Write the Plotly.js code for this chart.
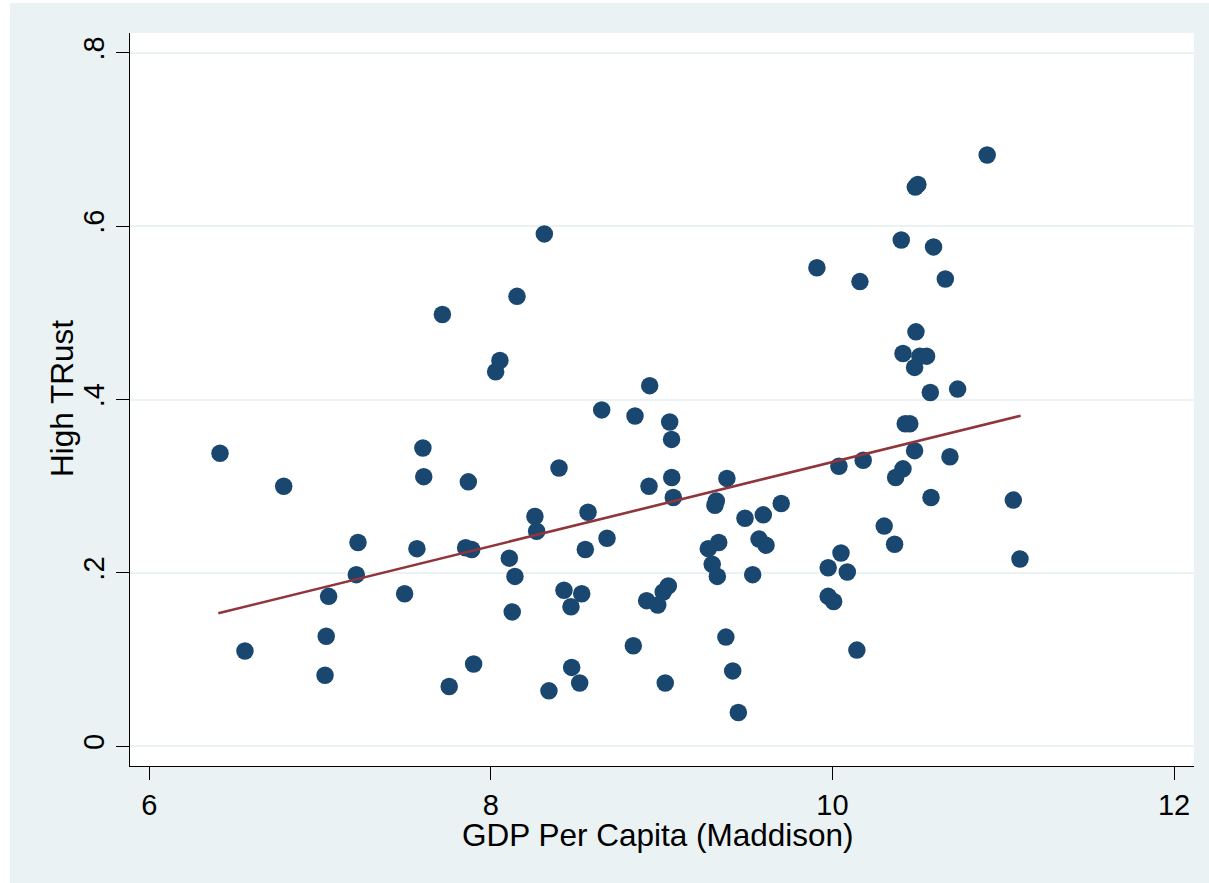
<!DOCTYPE html>
<html>
<head>
<meta charset="utf-8">
<script src="https://cdn.plot.ly/plotly-3.0.1.min.js"></script>
<style>
  html, body { margin: 0; padding: 0; background: #ffffff; }
  #chart { position: absolute; left: 10px; top: 3px; width: 1199px; height: 880px; }
</style>
</head>
<body>
<div id="chart"></div>
<script>
// Log GDP per capita (Maddison) for each country
const gdpPerCapita = [
  6.414, 6.560, 6.787, 7.029, 7.036, 7.050, 7.212, 7.222, 7.495, 7.567,
  7.602, 7.607, 7.716, 7.756, 7.852, 7.868, 7.888, 7.899, 8.028, 8.053,
  8.108, 8.125, 8.141, 8.153, 8.258, 8.268, 8.313, 8.340, 8.399, 8.428,
  8.469, 8.473, 8.520, 8.532, 8.553, 8.569, 8.649, 8.680, 8.834, 8.844,
  8.912, 8.926, 8.930, 8.977, 9.009, 9.021, 9.039, 9.047, 9.058, 9.059,
  9.068, 9.273, 9.296, 9.312, 9.320, 9.326, 9.334, 9.376, 9.382, 9.416,
  9.449, 9.488, 9.533, 9.570, 9.595, 9.611, 9.700, 9.909, 9.975, 9.975,
  10.007, 10.038, 10.050, 10.087, 10.143, 10.161, 10.180, 10.303, 10.364, 10.370,
  10.403, 10.413, 10.413, 10.426, 10.453, 10.481, 10.481, 10.485, 10.489, 10.500,
  10.512, 10.551, 10.573, 10.577, 10.592, 10.661, 10.688, 10.733, 10.906, 11.059,
  11.098
];

// Share of respondents reporting high trust
const highTrust = [
  0.338, 0.110, 0.300, 0.082, 0.127, 0.173, 0.198, 0.235, 0.176, 0.228,
  0.344, 0.311, 0.498, 0.069, 0.229, 0.305, 0.227, 0.095, 0.432, 0.445,
  0.217, 0.155, 0.196, 0.519, 0.265, 0.248, 0.591, 0.064, 0.321, 0.180,
  0.161, 0.091, 0.073, 0.176, 0.227, 0.270, 0.388, 0.240, 0.116, 0.381,
  0.168, 0.300, 0.416, 0.163, 0.178, 0.073, 0.185, 0.374, 0.354, 0.310,
  0.287, 0.228, 0.210, 0.278, 0.283, 0.196, 0.235, 0.126, 0.309, 0.087,
  0.039, 0.263, 0.198, 0.239, 0.267, 0.232, 0.280, 0.552, 0.206, 0.173,
  0.167, 0.323, 0.223, 0.201, 0.111, 0.536, 0.330, 0.254, 0.233, 0.310,
  0.584, 0.320, 0.453, 0.372, 0.372, 0.341, 0.437, 0.645, 0.478, 0.648,
  0.450, 0.450, 0.408, 0.287, 0.576, 0.539, 0.334, 0.412, 0.682, 0.284,
  0.216
];

// Linear fit endpoints over the observed GDP range
const fitX = [6.404, 11.102];
const fitY = [0.1534, 0.3813];

// Axis ticks and titles
const xTickVals = [6, 8, 10, 12];
const xTickText = ['6', '8', '10', '12'];
const yTickVals = [0, 0.2, 0.4, 0.6, 0.8];
const yTickText = ['0', '.2', '.4', '.6', '.8'];
const xTitle = 'GDP Per Capita (Maddison)';
const yTitle = 'High TRust';

const FONT = 'Liberation Sans, Arial, Helvetica, sans-serif';
const TICK_SIZE = 29;
const TITLE_SIZE = 31.5;

const traces = [
  {
    type: 'scatter',
    mode: 'markers',
    x: gdpPerCapita,
    y: highTrust,
    marker: { color: '#1a476f', size: 17.5, line: { width: 0 } },
    hoverinfo: 'x+y',
    showlegend: false
  },
  {
    type: 'scatter',
    mode: 'lines',
    x: fitX,
    y: fitY,
    line: { color: '#90353b', width: 2.6 },
    hoverinfo: 'skip',
    showlegend: false
  }
];

const layout = {
  width: 1199,
  height: 880,
  paper_bgcolor: '#eaf2f3',
  plot_bgcolor: '#ffffff',
  margin: { l: 120, r: 15, t: 30, b: 117 },
  font: { family: FONT, color: '#000000', size: TICK_SIZE },
  showlegend: false,
  xaxis: {
    range: [5.887, 12.117],
    tickmode: 'array',
    tickvals: xTickVals,
    ticktext: xTickText,
    ticks: 'outside',
    ticklen: 13,
    tickwidth: 1,
    tickcolor: '#000000',
    tickfont: { family: FONT, size: TICK_SIZE, color: '#000000' },
    showgrid: false,
    zeroline: false,
    showline: true,
    linecolor: '#000000',
    linewidth: 1
  },
  yaxis: {
    range: [-0.0227, 0.8227],
    tickmode: 'array',
    tickvals: yTickVals,
    ticktext: yTickText,
    tickangle: -90,
    ticks: 'outside',
    ticklen: 13,
    tickwidth: 1,
    tickcolor: '#000000',
    tickfont: { family: FONT, size: TICK_SIZE, color: '#000000' },
    showgrid: true,
    gridcolor: '#eaf2f3',
    gridwidth: 2,
    zeroline: false,
    showline: true,
    linecolor: '#000000',
    linewidth: 1
  },
  // Axis titles placed as paper-anchored annotations for exact placement
  annotations: [
    {
      text: xTitle, xref: 'paper', yref: 'paper', x: 0.4962, y: -0.0935,
      xanchor: 'center', yanchor: 'middle', showarrow: false,
      font: { family: FONT, size: TITLE_SIZE, color: '#000000' }
    },
    {
      text: yTitle, xref: 'paper', yref: 'paper', x: -0.0639, y: 0.5007,
      xanchor: 'center', yanchor: 'middle', showarrow: false, textangle: -90,
      font: { family: FONT, size: TITLE_SIZE, color: '#000000' }
    }
  ]
};

Plotly.newPlot('chart', traces, layout, { displayModeBar: false });
</script>
</body>
</html>
